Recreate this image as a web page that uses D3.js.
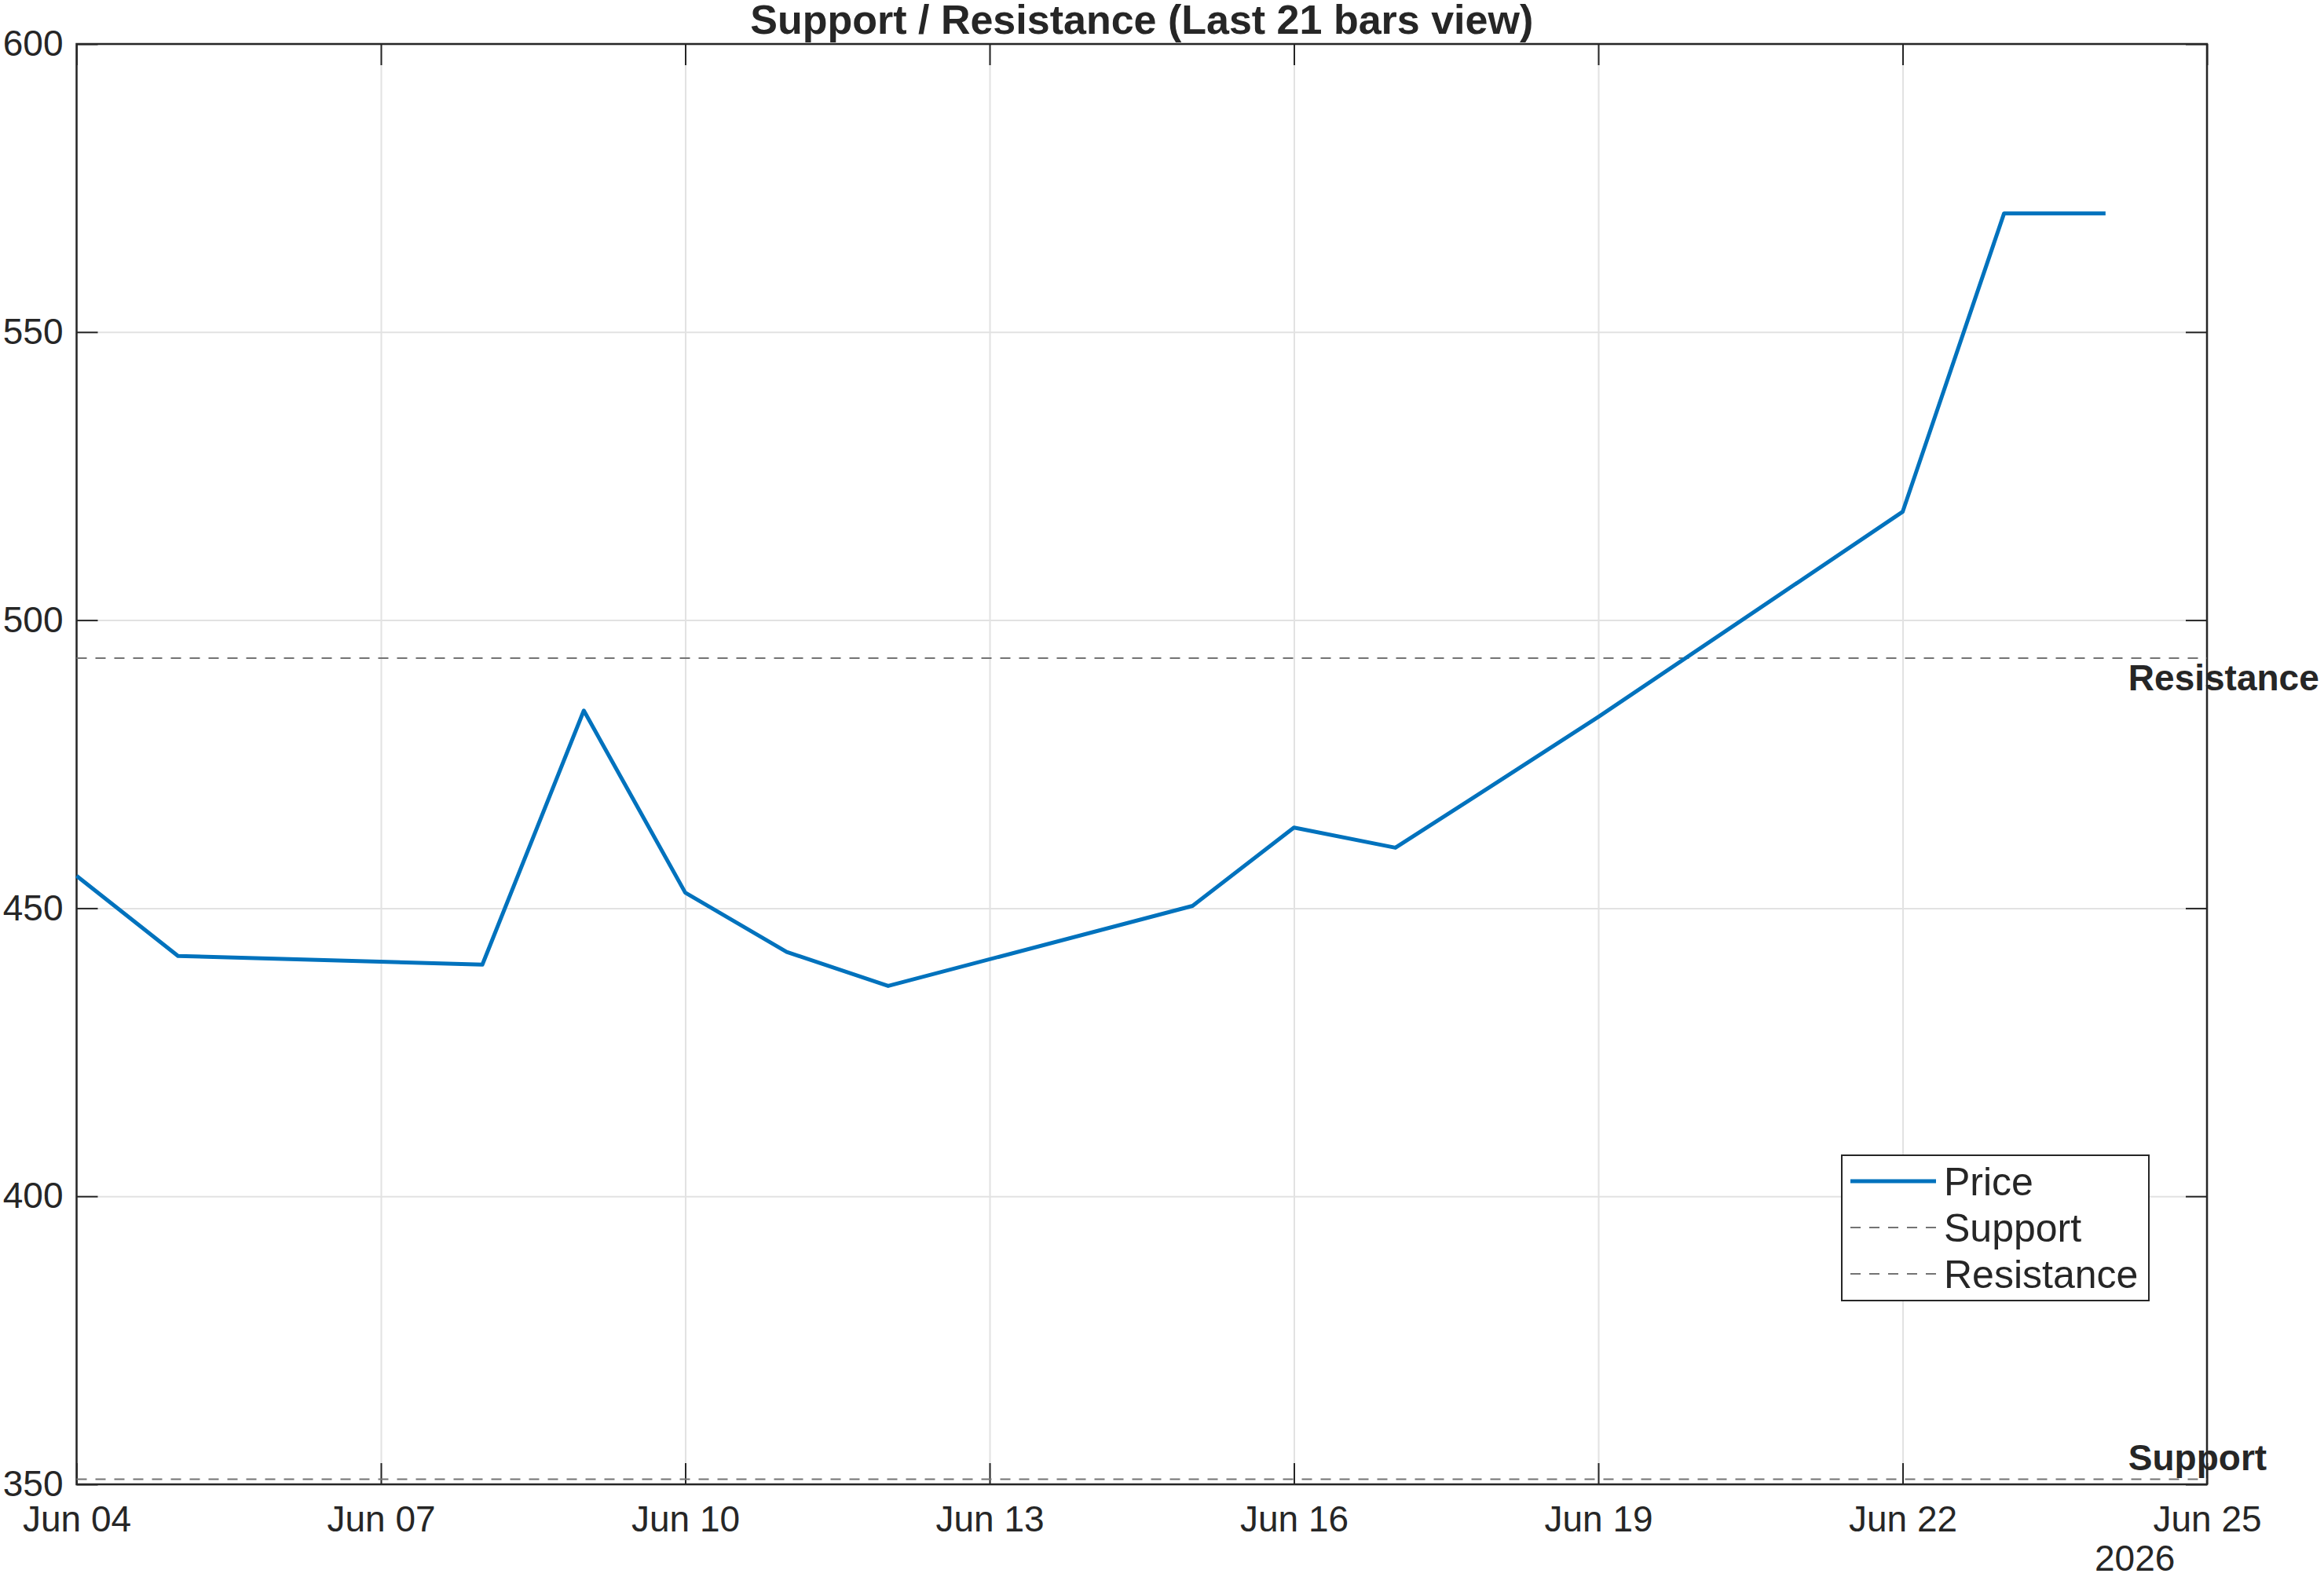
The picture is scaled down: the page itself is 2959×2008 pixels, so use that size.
<!DOCTYPE html>
<html>
<head>
<meta charset="utf-8">
<script src="https://cdn.jsdelivr.net/npm/d3@7"></script>
<style>
  body { margin: 0; background: #fff; }
  text { font-family: 'Liberation Sans', Arial, Helvetica, sans-serif; fill: #262626; }
</style>
</head>
<body>
<div id="chart"></div>
<script>
// Data
const dates = ['2026-06-04', '2026-06-05', '2026-06-08', '2026-06-09', '2026-06-10',
  '2026-06-11', '2026-06-12', '2026-06-15', '2026-06-16', '2026-06-17',
  '2026-06-18', '2026-06-19', '2026-06-22', '2026-06-23', '2026-06-24'];
const prices = [455.6, 441.7, 440.2, 484.3, 452.7, 442.4, 436.5, 450.4, 464.0, 460.5,
  471.8, 483.2, 518.8, 570.6, 570.6];
const supportLevel = 350.9;
const resistanceLevel = 493.4;
const xTickDates = ['2026-06-04', '2026-06-07', '2026-06-10', '2026-06-13', '2026-06-16',
  '2026-06-19', '2026-06-22', '2026-06-25'];
const yTicks = [350, 400, 450, 500, 550, 600];
const xDomain = ['2026-06-04', '2026-06-25'];
const yDomain = [350, 600];
const legendItems = ['Price', 'Support', 'Resistance'];

const parseDate = d3.utcParse('%Y-%m-%d');
const series = dates.map((d, i) => ({ date: parseDate(d), value: prices[i] }));

//Chart dimensions
const W = 2959, H = 2008;
const margin = { top: 56, left: 97.5, right: 149, bot: 118 };
const width = W - margin.left - margin.right;
const height = H - margin.top - margin.bot;
const colors = { price: '#0072BD', level: '#737373', axis: '#262626', grid: '#e2e2e2' };
const tickLen = 27;

// Scales
const xScale = d3.scaleUtc()
  .domain(xDomain.map(parseDate))
  .range([0, width]);

const yScale = d3.scaleLinear()
  .domain(yDomain)
  .range([height, 0]);

const svg = d3.select('#chart').append('svg')
  .attr('width', W)
  .attr('height', H);

const g = svg.append('g')
  .attr('transform', `translate(${margin.left}, ${margin.top})`);

// Grid
g.append('g')
  .attr('class', 'x-grid')
  .call(d3.axisBottom(xScale).tickValues(xTickDates.map(parseDate)).tickSize(height).tickFormat(''))
  .call(s => s.select('.domain').remove())
  .call(s => s.selectAll('line').attr('stroke', colors.grid).attr('stroke-width', 2));

g.append('g')
  .attr('class', 'y-grid')
  .call(d3.axisLeft(yScale).tickValues(yTicks).tickSize(-width).tickFormat(''))
  .call(s => s.select('.domain').remove())
  .call(s => s.selectAll('line').attr('stroke', colors.grid).attr('stroke-width', 2));

// Axes (ticks inside, box on)
const fmt = d3.utcFormat('%b %d');
const styleAxis = s => {
  s.select('.domain').remove();
  s.selectAll('line').attr('stroke', colors.axis).attr('stroke-width', 2);
  s.selectAll('text').style('font-size', '46px').attr('fill', colors.axis);
};

g.append('g')
  .attr('transform', `translate(0, ${height})`)
  .call(d3.axisBottom(xScale).tickValues(xTickDates.map(parseDate)).tickFormat(fmt)
    .tickSize(-tickLen).tickPadding(27))
  .call(styleAxis);

g.append('g')
  .call(d3.axisTop(xScale).tickValues(xTickDates.map(parseDate)).tickFormat('')
    .tickSize(-tickLen))
  .call(styleAxis);

g.append('g')
  .call(d3.axisLeft(yScale).tickValues(yTicks).tickSize(-tickLen).tickPadding(17))
  .call(styleAxis);

g.append('g')
  .attr('transform', `translate(${width}, 0)`)
  .call(d3.axisRight(yScale).tickValues(yTicks).tickFormat('').tickSize(-tickLen))
  .call(styleAxis);

g.append('rect')
  .attr('width', width)
  .attr('height', height)
  .attr('fill', 'none')
  .attr('stroke', colors.axis)
  .attr('stroke-width', 2.5);

// Year label under the date axis
g.append('text')
  .attr('x', xScale(parseDate('2026-06-25')) - 143)
  .attr('y', height + 110)
  .style('font-size', '46px')
  .text('2026');

// Support / resistance levels
const levelLine = d3.line()
  .x(d => xScale(d))
  .y(0);

[supportLevel, resistanceLevel].forEach(v => {
  g.append('path')
    .datum(xScale.domain())
    .attr('transform', `translate(0, ${yScale(v)})`)
    .attr('d', levelLine)
    .attr('stroke', colors.level)
    .attr('stroke-width', 2)
    .attr('stroke-dasharray', '13 11')
    .attr('fill', 'none');
});

// Price line
const priceLine = d3.line()
  .x(d => xScale(d.date))
  .y(d => yScale(d.value));

g.append('path')
  .datum(series)
  .attr('d', priceLine)
  .attr('stroke', colors.price)
  .attr('stroke-width', 5)
  .attr('stroke-linejoin', 'round')
  .attr('fill', 'none');

// Level labels
const labelX = xScale(series[series.length - 1].date) + 29;
g.append('text')
  .attr('x', labelX)
  .attr('y', yScale(resistanceLevel) + 41)
  .style('font-size', '46px')
  .style('font-weight', 'bold')
  .text('Resistance');

g.append('text')
  .attr('x', labelX)
  .attr('y', yScale(supportLevel) - 11)
  .style('font-size', '46px')
  .style('font-weight', 'bold')
  .text('Support');

// Title
svg.append('text')
  .attr('x', margin.left + width / 2)
  .attr('y', 43)
  .attr('text-anchor', 'middle')
  .style('font-size', '52px')
  .style('font-weight', 'bold')
  .text('Support / Resistance (Last 21 bars view)');

// Legend
const legend = svg.append('g')
  .attr('class', 'legend')
  .attr('transform', 'translate(2345, 1471)');

legend.append('rect')
  .attr('width', 391)
  .attr('height', 185)
  .attr('fill', '#fff')
  .attr('stroke', colors.axis)
  .attr('stroke-width', 2);

legendItems.forEach((name, i) => {
  const cy = 33 + i * 59;
  legend.append('line')
    .attr('x1', 11).attr('x2', 120)
    .attr('y1', cy).attr('y2', cy)
    .attr('stroke', i === 0 ? colors.price : colors.level)
    .attr('stroke-width', i === 0 ? 5 : 2)
    .attr('stroke-dasharray', i === 0 ? null : '13 11');
  legend.append('text')
    .attr('x', 130)
    .attr('y', cy + 18)
    .style('font-size', '50px')
    .text(name);
});
</script>
</body>
</html>
